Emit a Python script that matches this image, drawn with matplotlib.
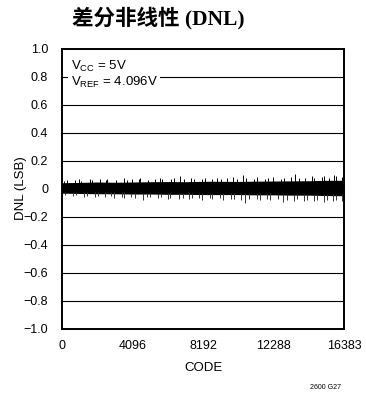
import matplotlib
matplotlib.use("Agg")
import matplotlib.pyplot as plt
import numpy as np

plt.rcParams['font.family'] = ['Liberation Sans Narrow', 'Liberation Sans', 'DejaVu Sans']
plt.rcParams['mathtext.fontset'] = 'custom'
plt.rcParams['mathtext.rm'] = 'Liberation Sans'

# DNL trace: dense band edges every 1024 codes
env_codes = [0, 1024, 2048, 3072, 4096, 5120, 6144, 7168, 8192,
             9216, 10240, 11264, 12288, 13312, 14336, 15360, 16383]
band_top = [0.045, 0.047, 0.050, 0.048, 0.050, 0.052, 0.053, 0.052, 0.055,
            0.055, 0.054, 0.056, 0.057, 0.058, 0.059, 0.062, 0.062]
band_bot = [-0.030, -0.032, -0.034, -0.034, -0.036, -0.036, -0.038, -0.038, -0.040,
            -0.040, -0.040, -0.042, -0.042, -0.044, -0.044, -0.047, -0.048]

# spikes poking out of the band
up_codes = [90, 310, 760, 980, 1130, 1610, 1720, 2230, 2540, 2620,
            3150, 3610, 3790, 4050, 4470, 4560, 5020, 5390, 5700, 5810,
            6330, 6480, 6850, 7080, 7520, 7660, 8110, 8300, 8720, 8990,
            9210, 9600, 9950, 10140, 10500, 10690, 11160, 11300, 11800, 11940,
            12260, 12700, 12870, 13310, 13550, 13760, 14090, 14510, 14640, 15090,
            15230, 15500, 15800, 15930, 16250]
up_vals = [0.060, 0.066, 0.062, 0.070, 0.058, 0.072, 0.064, 0.074, 0.062, 0.072,
           0.066, 0.076, 0.064, 0.074, 0.068, 0.078, 0.066, 0.070, 0.080, 0.068,
           0.072, 0.078, 0.092, 0.068, 0.080, 0.070, 0.072, 0.080, 0.070, 0.082,
           0.070, 0.078, 0.084, 0.072, 0.100, 0.080, 0.074, 0.084, 0.072, 0.076,
           0.086, 0.074, 0.080, 0.088, 0.105, 0.078, 0.082, 0.090, 0.078, 0.084,
           0.092, 0.080, 0.100, 0.094, 0.084]
dn_codes = [200, 610, 830, 1280, 1440, 1890, 2110, 2480, 2850, 3020,
            3460, 3610, 4010, 4230, 4706, 4950, 5120, 5560, 5740, 6160,
            6300, 6770, 7010, 7380, 7530, 7980, 8160, 8580, 8740, 9170,
            9360, 9790, 9990, 10410, 10630, 10860, 11320, 11480, 11920, 12080,
            12520, 12840, 13060, 13480, 13650, 14060, 14240, 14650, 14810, 15210,
            15370, 15760, 15890, 16280]
dn_vals = [-0.046, -0.050, -0.044, -0.056, -0.048, -0.058, -0.050, -0.060, -0.052, -0.062,
           -0.054, -0.064, -0.056, -0.066, -0.080, -0.060, -0.058, -0.066, -0.060, -0.070,
           -0.062, -0.072, -0.064, -0.074, -0.066, -0.062, -0.076, -0.066, -0.072, -0.064,
           -0.078, -0.068, -0.074, -0.080, -0.100, -0.072, -0.074, -0.080, -0.070, -0.082,
           -0.074, -0.090, -0.076, -0.084, -0.074, -0.086, -0.078, -0.088, -0.078, -0.090,
           -0.080, -0.088, -0.078, -0.086]

xticks = [0, 4096, 8192, 12288, 16383]
yticks = np.round(np.arange(-1.0, 1.01, 0.2), 1)

fig = plt.figure(figsize=(3.66, 3.98), dpi=100)
ax = fig.add_axes([0.1694, 0.1734, 0.7705, 0.7035])

for y in yticks[1:-1]:
    ax.axhline(y, color='black', lw=0.8, zorder=1)

ax.fill_between(env_codes, band_bot, band_top, color='black', lw=0, zorder=2)
top_at_up = np.interp(up_codes, env_codes, band_top)
bot_at_dn = np.interp(dn_codes, env_codes, band_bot)
ax.vlines(up_codes, top_at_up - 0.01, up_vals, color='black', lw=0.7, zorder=2)
ax.vlines(dn_codes, dn_vals, bot_at_dn + 0.01, color='#333333', lw=0.7, zorder=2)

ax.set_xlim(0, 16383)
ax.set_ylim(-1.0, 1.0)
ax.set_xticks(xticks)
ax.set_xticklabels([str(v) for v in xticks])
ax.set_yticks(yticks)
ax.set_yticklabels(['0' if v == 0 else f'{v:.1f}'.replace('-', '\u2212') for v in yticks])
ax.tick_params(length=0, labelsize=9, pad=10)
ax.tick_params(axis='x', pad=8)
for s in ax.spines.values():
    s.set_linewidth(1.4)

ax.set_xlabel('CODE', fontsize=9.5, labelpad=7)
fig.text(21 / 366, 1 - 188 / 398, 'DNL (LSB)', rotation=90, ha='center', va='center',
         fontsize=9.5)

ax.text(500, 0.93, 'V$_{\\mathrm{CC}}$ = 5V\nV$_{\\mathrm{REF}}$ = 4.096V',
        fontsize=9.5, va='top', ha='left', linespacing=1.1, zorder=3,
        bbox=dict(facecolor='white', edgecolor='none', pad=1.5))

fig.text(0.432, 0.955, '差分非线性 (DNL)', ha='center', va='center',
         fontsize=15.5, fontweight='bold',
         family=['Liberation Serif', 'Noto Sans CJK SC'])
fig.text(0.888, 0.026, '2600 G27', ha='center', va='center', fontsize=5)

fig.savefig('out.png', dpi=100)
